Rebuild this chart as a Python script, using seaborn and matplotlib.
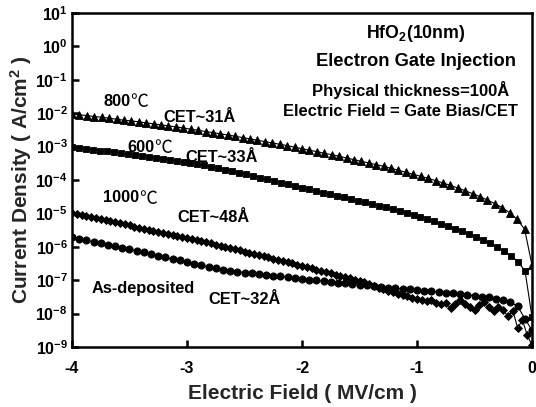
import numpy as np
import pandas as pd
import matplotlib
matplotlib.use("Agg")
import matplotlib.pyplot as plt
import seaborn as sns

# ---- data -------------------------------------------------------------
# Gate-voltage sweep is 0.02 V per step; field (MV/cm) = gate bias / CET.
cet_800, cet_600, cet_1000, cet_asdep = 31.0, 33.0, 48.0, 32.0   # Angstrom

# log10 of the current density (A/cm^2), one value per sweep step
log_j_800 = [
    -2.02, -2.05, -2.07, -2.10, -2.12, -2.15, -2.18, -2.21, -2.23, -2.26,
    -2.29, -2.32, -2.35, -2.38, -2.41, -2.44, -2.48, -2.51, -2.55, -2.58,
    -2.62, -2.65, -2.69, -2.73, -2.77, -2.81, -2.85, -2.89, -2.93, -2.97,
    -3.02, -3.06, -3.11, -3.15, -3.20, -3.24, -3.29, -3.34, -3.39, -3.44,
    -3.49, -3.54, -3.59, -3.65, -3.71, -3.77, -3.83, -3.89, -3.95, -4.02,
    -4.09, -4.16, -4.24, -4.32, -4.41, -4.50, -4.60, -4.71, -4.83, -4.98,
    -5.18, -5.47, -6.55,
]
log_j_600 = [
    -3.02, -3.04, -3.07, -3.09, -3.12, -3.14, -3.17, -3.19, -3.22, -3.25,
    -3.27, -3.30, -3.33, -3.36, -3.39, -3.42, -3.45, -3.49, -3.52, -3.56,
    -3.60, -3.64, -3.69, -3.73, -3.78, -3.83, -3.88, -3.93, -3.98, -4.03,
    -4.08, -4.13, -4.18, -4.23, -4.28, -4.33, -4.38, -4.43, -4.47, -4.52,
    -4.57, -4.62, -4.67, -4.72, -4.77, -4.82, -4.87, -4.92, -4.98, -5.04,
    -5.10, -5.17, -5.24, -5.31, -5.38, -5.46, -5.54, -5.62, -5.71, -5.80,
    -5.90, -6.01, -6.13, -6.27, -6.45, -6.72, -8.10,
]
log_j_1000 = [
    -5.00, -5.03, -5.06, -5.09, -5.12, -5.15, -5.18, -5.21, -5.24, -5.27,
    -5.30, -5.33, -5.36, -5.40, -5.43, -5.46, -5.49, -5.52, -5.55, -5.58,
    -5.61, -5.64, -5.67, -5.70, -5.73, -5.76, -5.80, -5.83, -5.87, -5.90,
    -5.94, -5.97, -6.01, -6.04, -6.08, -6.11, -6.15, -6.18, -6.22, -6.25,
    -6.29, -6.32, -6.36, -6.39, -6.42, -6.46, -6.49, -6.53, -6.56, -6.60,
    -6.64, -6.68, -6.71, -6.75, -6.79, -6.83, -6.87, -6.91, -6.94, -6.98,
    -7.02, -7.06, -7.10, -7.16, -7.22, -7.27, -7.31, -7.36, -7.40, -7.45,
    -7.48, -7.52, -7.55, -7.58, -7.62, -7.60, -7.68, -7.72, -7.68, -7.84,
    -7.72, -7.60, -7.70, -7.80, -7.88, -7.74, -7.66, -7.80, -7.93, -7.80,
    -7.90, -8.08, -7.92, -8.42, -8.20, -8.64, -8.95,
]
log_j_asdep = [
    -5.70, -5.76, -5.80, -5.85, -5.90, -5.94, -5.98, -6.03, -6.07, -6.12,
    -6.17, -6.22, -6.27, -6.32, -6.37, -6.41, -6.46, -6.50, -6.55, -6.60,
    -6.64, -6.68, -6.71, -6.74, -6.77, -6.79, -6.81, -6.84, -6.86, -6.88,
    -6.91, -6.93, -6.96, -6.98, -7.00, -7.03, -7.05, -7.07, -7.09, -7.11,
    -7.13, -7.15, -7.18, -7.20, -7.22, -7.24, -7.26, -7.27, -7.30, -7.31,
    -7.33, -7.35, -7.37, -7.38, -7.42, -7.43, -7.46, -7.49, -7.51, -7.55,
    -7.60, -7.66, -7.78, -8.15, -8.50,
]

x_ticks = [-4, -3, -2, -1, 0]
y_exponents = list(range(1, -10, -1))


def sweep(cet, n):
    """Electric field (MV/cm) for an n-point gate sweep ending at 0 V."""
    gate_bias = -0.02 * np.arange(n - 1, -1, -1)
    return gate_bias / cet * 100.0


series = [
    ("800", cet_800, log_j_800, "^", 5.4),
    ("600", cet_600, log_j_600, "s", 4.5),
    ("1000", cet_1000, log_j_1000, "D", 4.0),
    ("as-dep", cet_asdep, log_j_asdep, "o", 5.2),
]

frames = []
for name, cet, logj, _, _ in series:
    frames.append(pd.DataFrame({
        "field": sweep(cet, len(logj)),
        "J": 10.0 ** np.asarray(logj),
        "anneal": name,
    }))
df = pd.concat(frames, ignore_index=True)

# ---- styling ----------------------------------------------------------
sns.set_theme(style="ticks")
plt.rcParams["font.family"] = ["Liberation Sans", "DejaVu Sans"]
plt.rcParams["font.weight"] = "bold"
plt.rcParams["axes.unicode_minus"] = False
plt.rcParams["mathtext.fontset"] = "custom"
plt.rcParams["mathtext.rm"] = "Liberation Sans:bold"
plt.rcParams["mathtext.bf"] = "Liberation Sans:bold"
plt.rcParams["mathtext.it"] = "Liberation Sans:bold"
plt.rcParams["mathtext.default"] = "bf"

fig = plt.figure(figsize=(5.36, 4.07), dpi=100)
ax = fig.add_axes([72 / 536, 1 - 347 / 407, 460 / 536, 334 / 407])

for name, _, _, marker, ms in series:
    sns.lineplot(
        data=df[df["anneal"] == name], x="field", y="J",
        color="black", linewidth=0.8, marker=marker, markersize=ms,
        markeredgecolor="black", markeredgewidth=0.6,
        estimator=None, sort=False, ax=ax, legend=False,
    )

ax.set_yscale("log")
ax.set_xlim(-4, 0)
ax.set_ylim(1e-9, 1e1)
ax.set_xticks(x_ticks)
ax.set_xticklabels([str(t) for t in x_ticks])
ax.set_yticks([10.0 ** e for e in y_exponents])
ax.set_yticklabels([r"$10^{%d}$" % e for e in y_exponents])
ax.yaxis.set_minor_locator(matplotlib.ticker.NullLocator())

for sp in ax.spines.values():
    sp.set_linewidth(1.8)
    sp.set_color("black")
ax.tick_params(axis="both", which="major", direction="in", length=5,
               width=1.8, color="black", labelsize=11.5, labelcolor="black")
ax.tick_params(axis="x", pad=10)
ax.tick_params(axis="y", pad=3)
for lbl in ax.get_xticklabels() + ax.get_yticklabels():
    lbl.set_fontweight("bold")

ax.set_xlabel("Electric Field ( MV/cm )", fontsize=15, fontweight="bold",
              labelpad=6)
ax.set_ylabel(r"Current Density ( A/cm$^2$ )", fontsize=15,
              fontweight="bold", labelpad=1)

# ---- annotations ------------------------------------------------------
txt = dict(transform=fig.transFigure, fontweight="bold", color="black",
           family=["Liberation Sans", "DejaVu Sans"])


def put(x, y, s, size, ha="left"):
    return fig.text(x / 536, 1 - y / 407, s, fontsize=size, ha=ha,
                    va="center", **txt)


def put_temp(x, y, value, size):
    """Anneal temperature: bold digits followed by a light Celsius sign."""
    t = put(x, y, value, size)
    fig.add_artist(matplotlib.text.Annotation(
        "℃", xy=(1.0, 0.45), xycoords=t, ha="left", va="center",
        fontsize=size + 1, fontweight="light", color="black",
        family=["Noto Sans CJK SC", "DejaVu Sans"]))


put(416, 33, r"HfO$_2$(10nm)", 12.8, ha="center")
put(416, 62, "Electron Gate Injection", 13.2, ha="center")
put(411, 90, "Physical thickness=100Å", 12, ha="center")
put(400, 112, "Electric Field = Gate Bias/CET", 11.9, ha="center")

put_temp(103, 101, "800", 11.8)
put(163, 117, "CET~31Å", 11.8)
put_temp(127, 147, "600", 11.8)
put(185, 158, "CET~33Å", 11.8)
put_temp(103, 198, "1000", 11.8)
put(177, 218, "CET~48Å", 11.8)
put(92, 288, "As-deposited", 11.8)
put(208, 300, "CET~32Å", 11.8)

fig.savefig("out.png", dpi=100)
